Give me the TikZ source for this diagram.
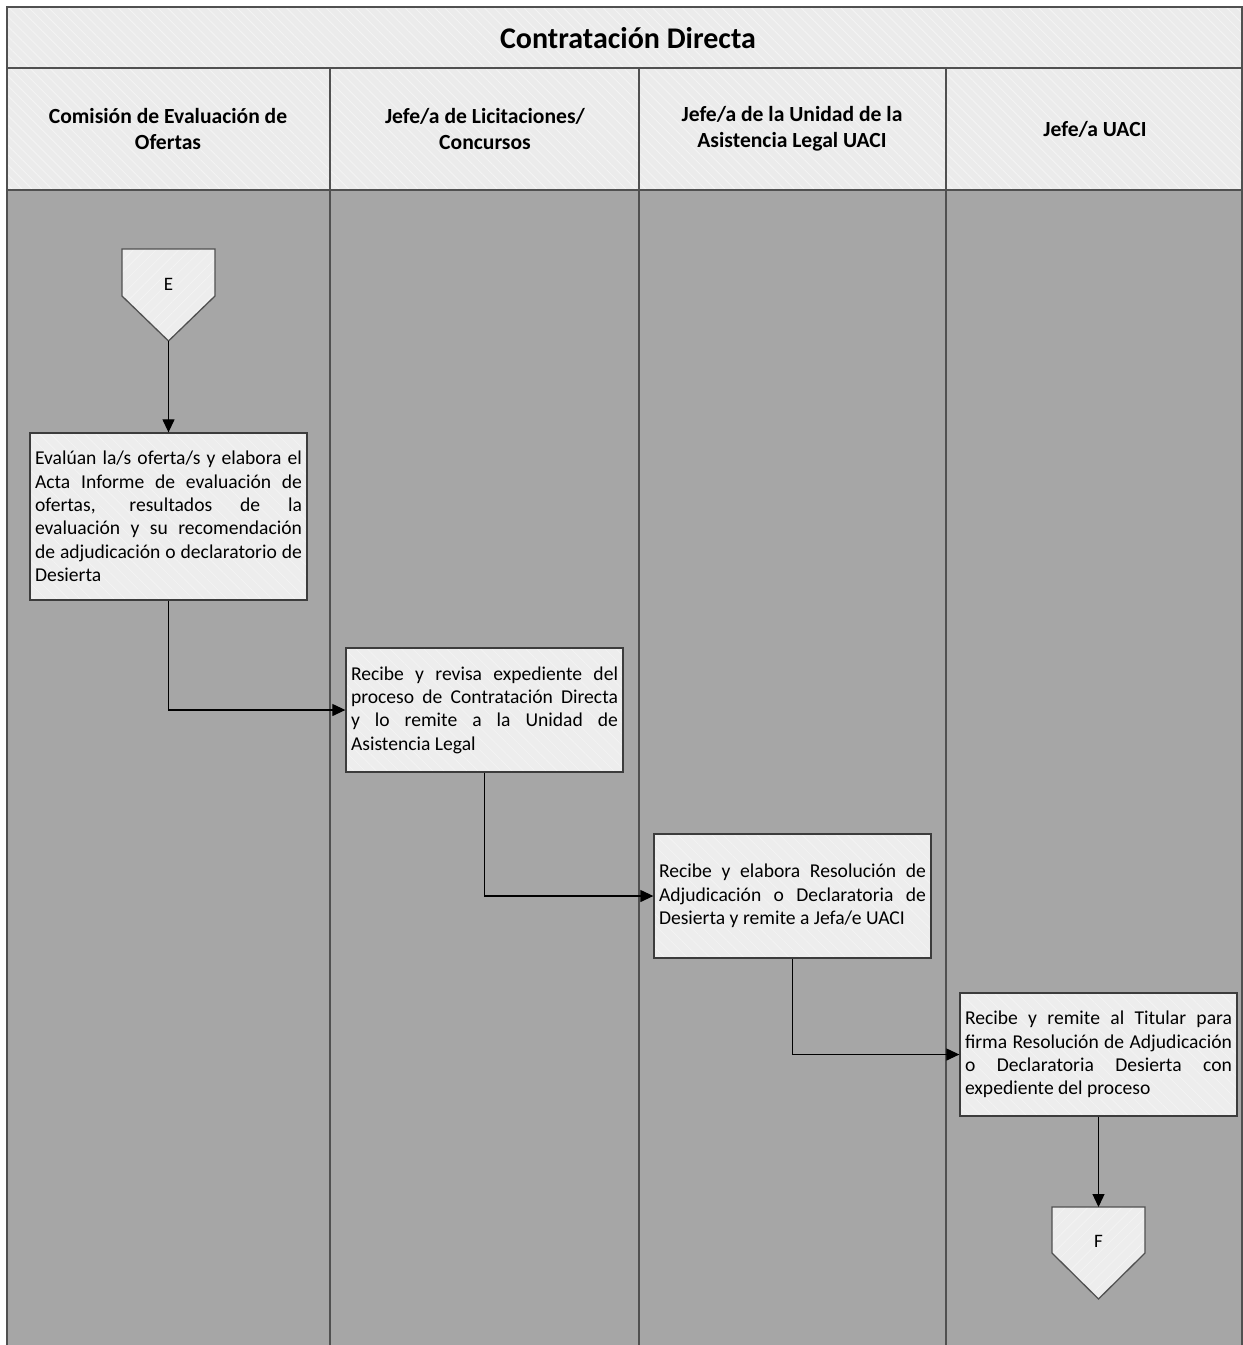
\documentclass[tikz,border=0pt]{standalone}
\usepackage{fontspec}
\setmainfont{Carlito}
\usetikzlibrary{arrows.meta,patterns.meta}
\definecolor{hdrfill}{HTML}{EBEBEB}
\definecolor{hatch}{HTML}{F4F4F4}
\definecolor{lanefill}{HTML}{A6A6A6}
\definecolor{boxfill}{HTML}{EDEDED}
\definecolor{edge}{HTML}{505050}
\definecolor{boxedge}{HTML}{3C3C3C}
\tikzset{
  hdrcell/.style={preaction={fill=hdrfill}, preaction={pattern={Lines[angle=-45,distance=7pt,line width=0.8pt]}, pattern color=hatch}},
  lanebody/.style={fill=lanefill},
  laneline/.style={draw=edge, line width=1.7pt},
  procbox/.style={draw=boxedge, line width=1.3pt,
    preaction={fill=boxfill},
    preaction={pattern={Lines[angle=-45,distance=8pt,line width=0.6pt]}, pattern color=hatch},
    text width=267pt, inner xsep=5pt, inner ysep=0pt, minimum width=277pt, align=justify,
    font=\fontsize{19.6}{23.4}\selectfont},
  pentshape/.style={draw=edge, line width=1.3pt,
    preaction={fill=boxfill},
    preaction={pattern={Lines[angle=45,distance=8pt,line width=0.6pt]}, pattern color=hatch}},
  pentlabel/.style={font=\fontsize{19}{22}\selectfont, inner sep=0pt},
  hdrtext/.style={font=\bfseries\fontsize{21.6}{26}\selectfont, align=center},
  titletext/.style={font=\bfseries\fontsize{30}{34}\selectfont},
  conn/.style={draw=black, line width=1.2pt, -{Triangle[length=13pt,width=12pt]}},
}
\begin{document}
\begin{tikzpicture}[x=1pt,y=-1pt]
\useasboundingbox (0,0) rectangle (1243,1345);
\fill[white] (0,0) rectangle (1243,1345);
% lane bodies
\path[lanebody] (7,190) rectangle (1243,1345);
% title and header
\path[hdrcell] (7,7) rectangle (1243,190);
\draw[laneline] (7,1345) -- (7,7) -- (1242,7) -- (1242,1345);
\draw[laneline] (7,68) -- (1242,68);
\draw[laneline] (7,190) -- (1242,190);
\draw[laneline] (330,68) -- (330,1345);
\draw[laneline] (639,68) -- (639,1345);
\draw[laneline] (946,68) -- (946,1345);
\node[titletext] (title) at (628,38) {Contratación Directa};
\node[hdrtext] (h1) at (168,129) {Comisión de Evaluación de\\Ofertas};
\node[hdrtext] (h2) at (485,129) {Jefe/a de Licitaciones/\\Concursos};
\node[hdrtext] (h3) at (792,129) {Jefe/a de la Unidad de la\\Asistencia Legal UACI};
\node[hdrtext] (h4) at (1095,129) {Jefe/a UACI};
% start connector E
\path[pentshape] (122,249) -- (215,249) -- (215,296) -- (168.5,341) -- (122,296) -- cycle;
\node[pentlabel] (E) at (168.5,284) {E};
\coordinate (Ebot) at (168.5,341);
% end connector F
\path[pentshape] (1052,1207) -- (1145,1207) -- (1145,1253) -- (1098.5,1299) -- (1052,1253) -- cycle;
\node[pentlabel] (F) at (1098.5,1241) {F};
\coordinate (Ftop) at (1098.5,1207);
% process boxes
\node[procbox, minimum height=167pt] (b1) at (168.5,516.5) {Evalúan la/s oferta/s y elabora el\linebreak Acta Informe de evaluación de\linebreak ofertas, resultados de la\linebreak evaluación y su recomendación\linebreak de adjudicación o declaratorio de\linebreak Desierta};
\node[procbox, minimum height=124pt] (b2) at (484.5,710) {Recibe y revisa expediente del\linebreak proceso de Contratación Directa\linebreak y lo remite a la Unidad de\linebreak Asistencia Legal};
\node[procbox, minimum height=124pt] (b3) at (792.5,896) {Recibe y elabora Resolución de\linebreak Adjudicación o Declaratoria de\linebreak Desierta y remite a Jefa/e UACI};
\node[procbox, minimum height=123pt] (b4) at (1098.5,1054.5) {Recibe y remite al Titular para\linebreak firma Resolución de Adjudicación\linebreak o Declaratoria Desierta con\linebreak expediente del proceso};
% connectors
\draw[conn] (Ebot) -- (b1.north);
\draw[conn] (b1.south) |- (b2.west);
\draw[conn] (b2.south) |- (b3.west);
\draw[conn] (b3.south) |- (b4.west);
\draw[conn] (b4.south) -- (Ftop);
\end{tikzpicture}
\end{document}
